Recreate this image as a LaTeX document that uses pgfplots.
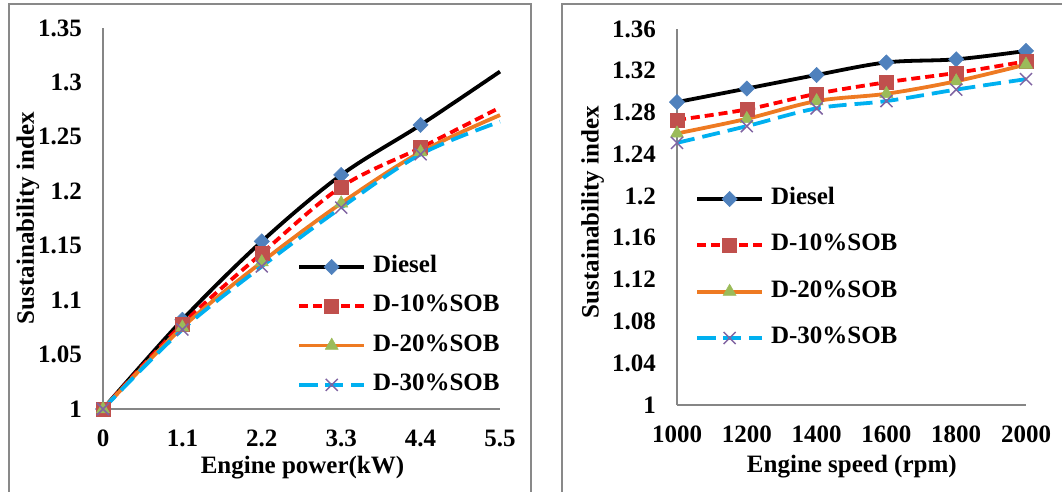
\documentclass[border=0pt]{standalone}
\usepackage{fontspec}
\setmainfont{Liberation Serif}
\usepackage{pgfplots}
\pgfplotsset{compat=1.18}

\definecolor{framegray}{HTML}{898989}
\definecolor{axgray}{HTML}{868686}
\definecolor{mblue}{HTML}{4F81BD}
\definecolor{mred}{HTML}{C0504D}
\definecolor{lorange}{HTML}{EE7A22}
\definecolor{mgreen}{HTML}{9BBB59}
\definecolor{lcyan}{HTML}{00B0F0}
\definecolor{mpurple}{HTML}{8064A2}

\newcommand{\chartfont}{\bfseries\fontsize{25}{27}\selectfont}

\pgfplotsset{
  sobpanel/.style={
    scale only axis,
    anchor=south west,
    clip=false,
    axis lines*=left,
    axis line style={draw=axgray, line width=1.3pt},
    major tick length=0pt,
    tick label style={font=\chartfont, inner sep=0pt},
    yticklabel style={anchor=east, xshift=-21pt},
    xticklabel style={anchor=north, yshift=-21pt},
    label style={font=\chartfont},
    legend cell align=left,
    legend style={draw=none, fill=none, inner sep=0pt, column sep=7pt,
      nodes={inner sep=0pt, text height=16pt, text depth=5pt, font=\chartfont}},
    legend image code/.code={
      \draw[mark indices={2}] plot coordinates {(0pt,0pt) (32.5pt,0pt) (65pt,0pt)};
    },
  },
  diesel/.style={draw=black, line width=3.8pt, smooth, tension=0.55,
    mark=square*, mark size=5.4pt,
    mark options={solid, rotate=45, fill=mblue, draw=mblue, line width=0.5pt}},
  sobten/.style={draw=red, line width=3.8pt, smooth, tension=0.55,
    dash pattern=on 9pt off 5pt,
    mark=square*, mark size=7pt,
    mark options={solid, fill=mred, draw=mred, line width=0.5pt}},
  sobtwenty/.style={draw=lorange, line width=3.8pt, smooth, tension=0.55,
    mark=triangle*, mark size=7.5pt,
    mark options={solid, fill=mgreen, draw=mgreen, line width=0.5pt}},
  sobthirty/.style={draw=lcyan, line width=3.8pt, smooth, tension=0.55,
    dash pattern=on 18pt off 8pt,
    mark=x, mark size=8.5pt,
    mark options={solid, draw=mpurple, line width=1.5pt}},
}

\begin{document}
\begin{tikzpicture}
\useasboundingbox (0,0) rectangle (1062pt,491pt);

% chart area borders
\draw[framegray, line width=1.3pt] (9pt,-2pt) -- (9pt,487pt) -- (531pt,487pt) -- (531pt,-2pt);
\draw[framegray, line width=1.3pt] (562pt,-2pt) -- (562pt,487pt) -- (1070pt,487pt);

% Sustainability index versus engine power
\begin{axis}[sobpanel,
  at={(103pt,82pt)}, width=397pt, height=381pt,
  xmin=0, xmax=5.5, ymin=1, ymax=1.35,
  xtick={0,1.1,2.2,3.3,4.4,5.5},
  xticklabels={0,1.1,2.2,3.3,4.4,5.5},
  ytick={1,1.05,1.1,1.15,1.2,1.25,1.3,1.35},
  yticklabels={1,1.05,1.1,1.15,1.2,1.25,1.3,1.35},
  xlabel={Engine power(kW)},
  ylabel={Sustainability index},
  xlabel style={at={(axis description cs:0.5025,-0.155)}, anchor=center},
  ylabel style={at={(axis description cs:-0.189,0.501)}, anchor=center, rotate=0},
  legend style={at={(axis description cs:0.489,0.218)}, anchor=west, row sep=18.3pt},
]
\addplot[diesel, mark indices={1,2,3,4,5}] coordinates
  {(0,1) (1.1,1.082) (2.2,1.154) (3.3,1.215) (4.4,1.261) (5.5,1.310)};
\addlegendentry{Diesel}
\addplot[sobten, mark indices={1,2,3,4,5}] coordinates
  {(0,1) (1.1,1.078) (2.2,1.143) (3.3,1.204) (4.4,1.240) (5.5,1.277)};
\addlegendentry{D-10\%SOB}
\addplot[sobtwenty, mark indices={1,2,3,4,5}] coordinates
  {(0,1) (1.1,1.075) (2.2,1.135) (3.3,1.189) (4.4,1.236) (5.5,1.270)};
\addlegendentry{D-20\%SOB}
\addplot[sobthirty, mark indices={1,2,3,4,5}] coordinates
  {(0,1) (1.1,1.073) (2.2,1.131) (3.3,1.185) (4.4,1.234) (5.5,1.264)};
\addlegendentry{D-30\%SOB}
\end{axis}

% Sustainability index versus engine speed
\begin{axis}[sobpanel,
  at={(677pt,86pt)}, width=349pt, height=376pt,
  xmin=1000, xmax=2000, ymin=1, ymax=1.36,
  xtick={1000,1200,1400,1600,1800,2000},
  xticklabels={1000,1200,1400,1600,1800,2000},
  ytick={1,1.04,1.08,1.12,1.16,1.2,1.24,1.28,1.32,1.36},
  yticklabels={1,1.04,1.08,1.12,1.16,1.2,1.24,1.28,1.32,1.36},
  xlabel={Engine speed (rpm)},
  ylabel={Sustainability index},
  xlabel style={at={(axis description cs:0.501,-0.165)}, anchor=center},
  ylabel style={at={(axis description cs:-0.242,0.513)}, anchor=center, rotate=0},
  legend style={at={(axis description cs:0.0516,0.363)}, anchor=west, row sep=25.3pt},
]
\addplot[diesel] coordinates
  {(1000,1.290) (1200,1.303) (1400,1.316) (1600,1.328) (1800,1.331) (2000,1.339)};
\addlegendentry{Diesel}
\addplot[sobten] coordinates
  {(1000,1.273) (1200,1.283) (1400,1.298) (1600,1.309) (1800,1.318) (2000,1.329)};
\addlegendentry{D-10\%SOB}
\addplot[sobtwenty] coordinates
  {(1000,1.260) (1200,1.274) (1400,1.291) (1600,1.298) (1800,1.310) (2000,1.326)};
\addlegendentry{D-20\%SOB}
\addplot[sobthirty] coordinates
  {(1000,1.251) (1200,1.267) (1400,1.284) (1600,1.291) (1800,1.302) (2000,1.312)};
\addlegendentry{D-30\%SOB}
\end{axis}
\end{tikzpicture}
\end{document}
